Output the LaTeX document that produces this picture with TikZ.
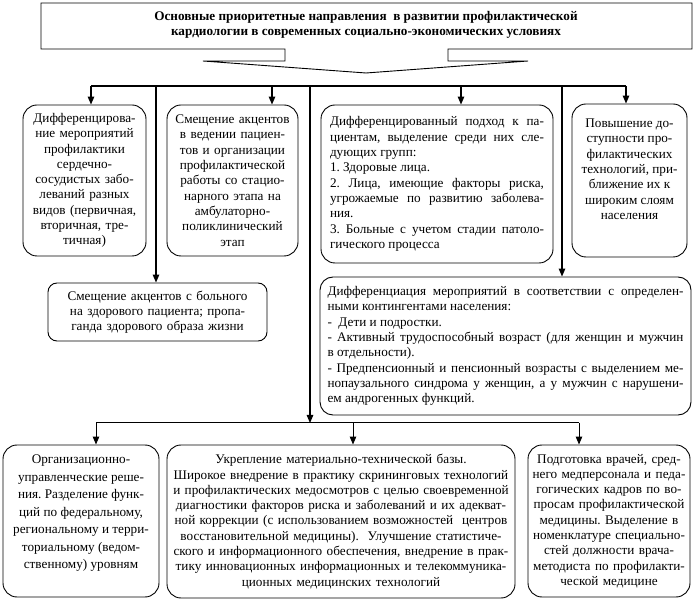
\documentclass[tikz,border=0pt]{standalone}
\usepackage{fontspec}
\setmainfont{Liberation Serif}
\usetikzlibrary{arrows.meta}
\tolerance=10000
\hbadness=10000
\frenchspacing
\tikzset{every node/.style={font=\fontsize{13.2}{15.3}\selectfont, inner sep=0pt}}
\tikzset{box/.style={draw, rounded corners=14pt, line width=0.9pt, align=center}}
\tikzset{link/.style={draw, line width=1.2pt, -{Triangle[length=8pt,width=6.5pt]}}}
\tikzset{bus/.style={draw, line width=2.2pt}}

\begin{document}
\begin{tikzpicture}[x=1pt, y=-1pt]
  \useasboundingbox (0,0) rectangle (699,601);

  % title with its pointer
  \node (title) [font=\bfseries\fontsize{13.2}{15.3}\selectfont, align=center] at (366,25)
    {Основные приоритетные направления \ в развитии профилактической\\
     кардиологии в современных социально-экономических условиях};
  \draw[line width=0.9pt] (41,3) -- (692,3) -- (692,49) -- (448,49) -- (448,61) -- (528,61)
    -- (366,73) -- (203,61) -- (285,61) -- (285,49) -- (41,49) -- cycle;

  % upper row
  \node (levels) [box, text width=117pt, minimum width=123pt, minimum height=151pt] at (84.5,180.5)
    {Дифференцирова-\\ние мероприятий\\профилактики\\сердечно-\\сосудистых забо-\\леваний разных\\видов (первичная,\\вторичная, тре-\\тичная)};
  \node (stage) [box, text width=125pt, minimum width=131pt, minimum height=151pt] at (232.5,180.5)
    {Смещение акцентов\\в ведении пациен-\\тов и организации\\профилактической\\работы со стацио-\\нарного этапа на\\амбулаторно-\\поликлинический\\этап};
  \node (groups) [box, align=justify, text width=214pt, minimum width=232pt, minimum height=158pt] at (437,184)
    {Дифференцированный подход к па-\linebreak циентам, выделение среди них сле-\linebreak дующих групп:\\
     1. Здоровые лица.\\
     2. Лица, имеющие факторы риска,\linebreak угрожаемые по развитию заболева-\linebreak ния.\\
     3. Больные с учетом стадии патоло-\linebreak гического процесса};
  \node (access) [box, minimum width=115pt, minimum height=153pt] at (629.5,180.5)
    {\parbox[c][145pt][t]{111pt}{\centering\vspace*{11pt}Повышение до-\\ступности про-\\филактических\\технологий, при-\\ближение их к\\широким слоям\\населения}};

  % middle row
  \node (healthy) [box, rounded corners=9pt, text width=205pt, minimum width=219pt, minimum height=58pt] at (157.5,312)
    {Смещение акцентов с больного\\на здорового пациента; пропа-\\ганда здорового образа жизни};
  \node (ages) [box, rounded corners=13pt, align=justify, text width=356pt, minimum width=371pt, minimum height=138pt] at (505.5,346)
    {Дифференциация мероприятий в соответствии с определен-\linebreak ными контингентами населения:\\
     - \ Дети и подростки.\\
     - Активный трудоспособный возраст (для женщин и мужчин\linebreak в отдельности).\\
     - Предпенсионный и пенсионный возрасты с выделением ме-\linebreak нопаузального синдрома у женщин, а у мужчин с нарушени-\linebreak ем андрогенных функций.};

  % lower row
  \node (manage) [box, minimum width=156pt, minimum height=152pt] at (81,521)
    {\parbox[c][144pt][t]{152pt}{\centering\fontsize{13.2}{17.5}\selectfont\vspace*{6pt}Организационно-\\управленческие реше-\\ния. Разделение функ-\\ций по федеральному,\\региональному и терри-\\ториальному (ведом-\\ственному) уровням}};
  \node (base) [box, text width=344pt, minimum width=348pt, minimum height=153pt] at (341,521.5)
    {Укрепление материально-технической базы.\\
     Широкое внедрение в практику скрининговых технологий\\
     и профилактических медосмотров с целью своевременной\\
     диагностики факторов риска и заболеваний и их адекват-\\
     ной коррекции (с использованием возможностей \ центров\\
     восстановительной медицины). \ Улучшение статистиче-\\
     ского и информационного обеспечения, внедрение в прак-\\
     тику инновационных информационных и телекоммуника-\\
     ционных медицинских технологий};
  \node (staff) [box, text width=158pt, minimum width=162pt, minimum height=152pt] at (609,521)
    {Подготовка врачей, сред-\\него медперсонала и педа-\\гогических кадров по во-\\просам профилактической\\медицины. Выделение в\\номенклатуре специально-\\стей должности врача-\\методиста по профилакти-\\ческой медицине};

  % buses
  \coordinate (t1) at (91,86);
  \coordinate (t2) at (156,86);
  \coordinate (t3) at (272,86);
  \coordinate (t4) at (310,86);
  \coordinate (t5) at (461,86);
  \coordinate (t6) at (562,86);
  \coordinate (t7) at (626,86);
  \coordinate (s1) at (96,423);
  \coordinate (s2) at (353,423);
  \coordinate (s3) at (579,423);

  \draw[bus] (t1) -- (t7);
  \draw[line width=1pt] (s1) -- (s3);

  \draw[link] (t1) -- (t1 |- levels.north);
  \draw[link] (t2) -- (t2 |- healthy.north);
  \draw[link] (t3) -- (t3 |- stage.north);
  \draw[link] (t4) -- (t4 |- s1);
  \draw[link] (t5) -- (t5 |- groups.north);
  \draw[link] (t6) -- (t6 |- ages.north);
  \draw[link] (t7) -- (t7 |- access.north);

  \draw[link, line width=1pt] (s1) -- (s1 |- manage.north);
  \draw[link, line width=1pt] (s2) -- (s2 |- base.north);
  \draw[link, line width=1pt] (s3) -- (s3 |- staff.north);
\end{tikzpicture}
\end{document}
